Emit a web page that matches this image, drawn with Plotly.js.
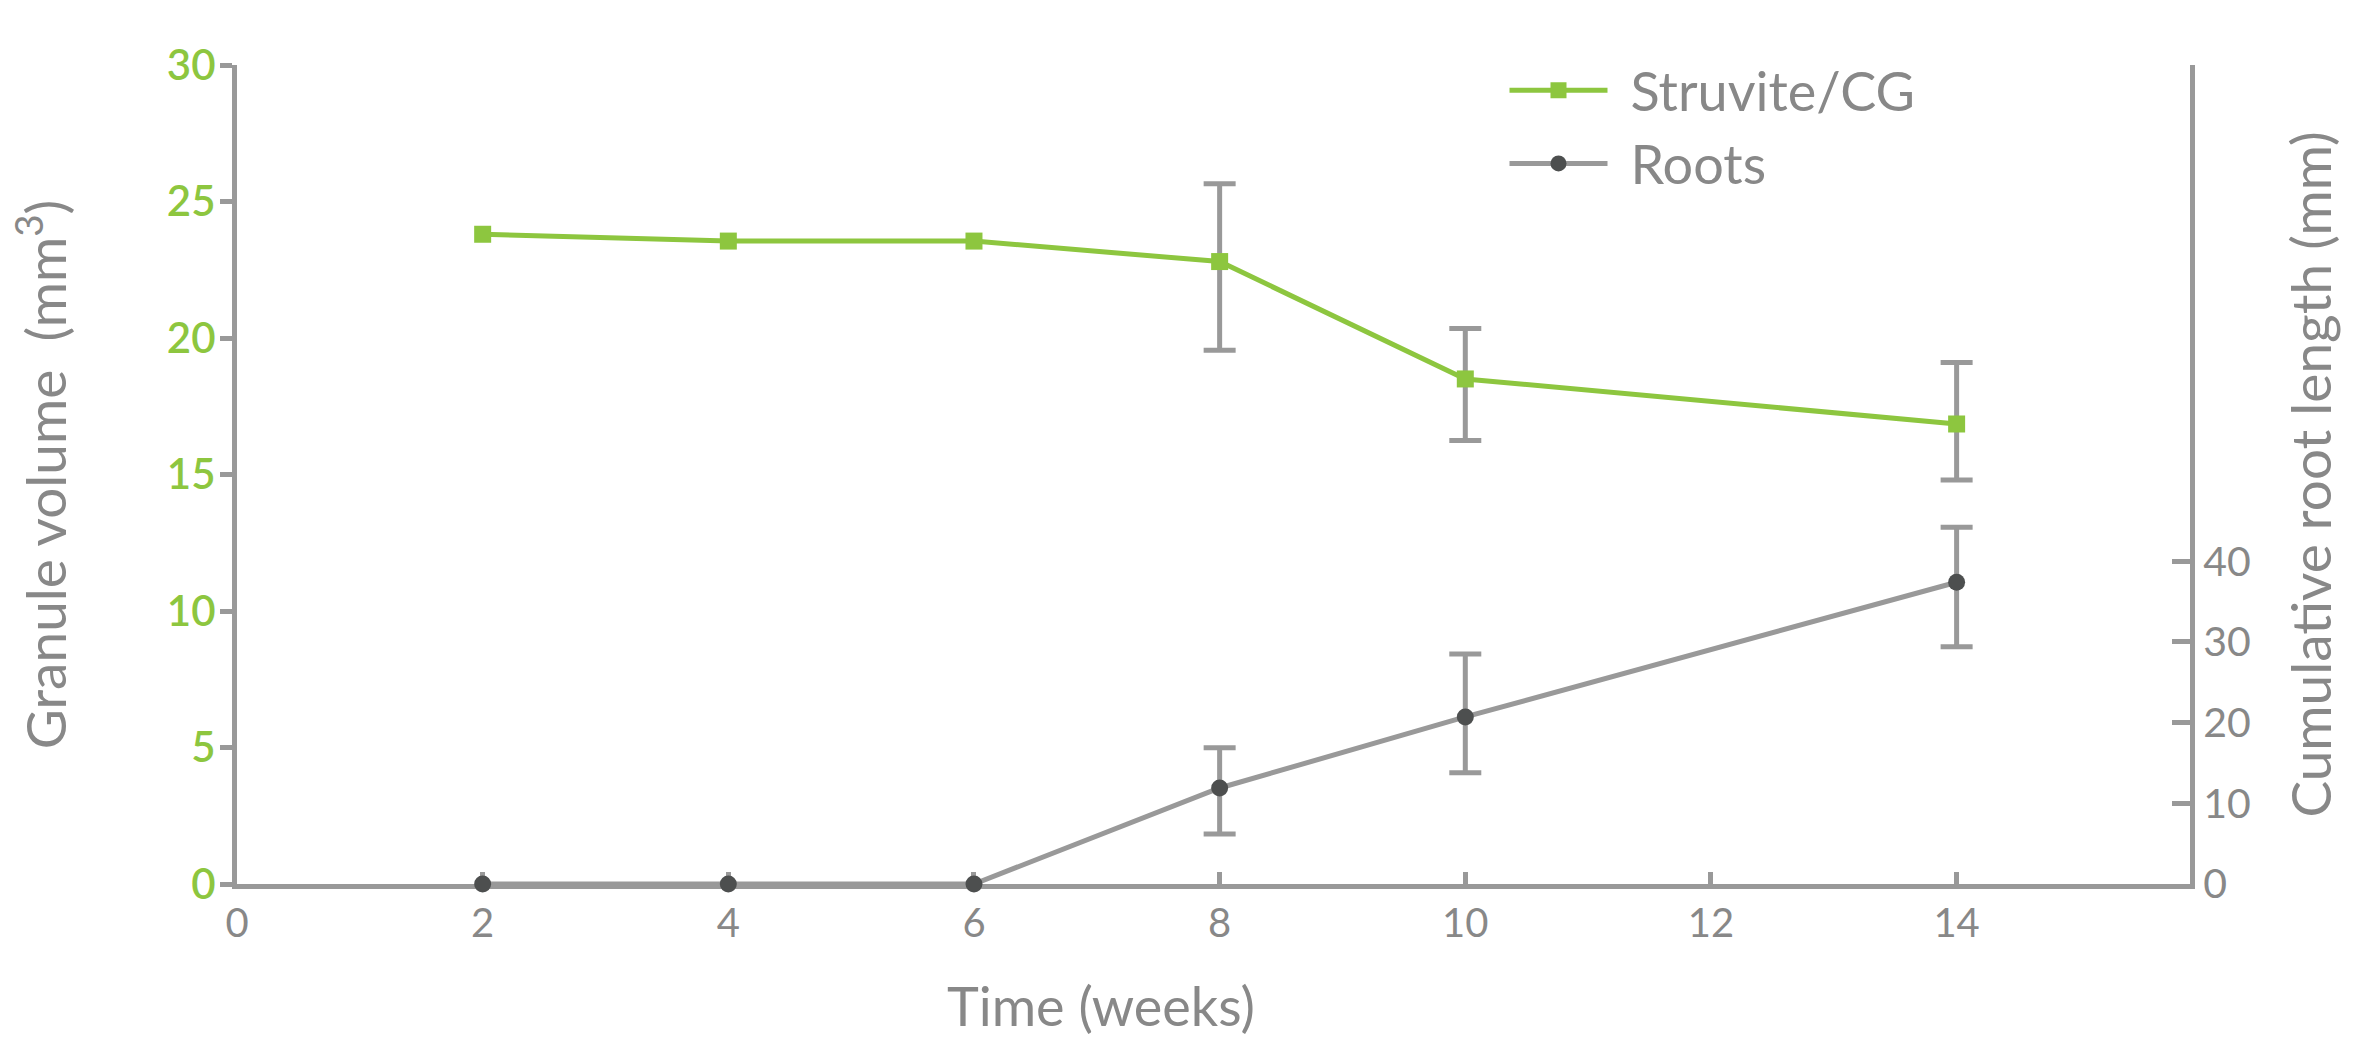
<!DOCTYPE html>
<html>
<head>
<meta charset="utf-8">
<script src="https://cdn.plot.ly/plotly-3.0.1.min.js"></script>
<style>html,body{margin:0;padding:0;background:#fff}#chart{width:2365px;height:1040px}</style>
</head>
<body>
<div id="chart"></div>
<script>
// ---- data (NaN = no error bar drawn) ----
const weeks = [2, 4, 6, 8, 10, 14];
const struvite = [23.8, 23.55, 23.55, 22.8, 18.5, 16.85];
const struviteErrPlus = [NaN, NaN, NaN, 2.85, 1.85, 2.25];
const struviteErrMinus = [NaN, NaN, NaN, 3.25, 2.25, 2.05];
const roots = [0, 0, 0, 11.9, 20.7, 37.4];
const rootsErrPlus = [NaN, NaN, NaN, 5.0, 7.8, 6.8];
const rootsErrMinus = [NaN, NaN, NaN, 5.7, 6.9, 8.0];
const xTicks = [0, 2, 4, 6, 8, 10, 12, 14];
const leftTicks = [0, 5, 10, 15, 20, 25, 30];
const rightTicks = [0, 10, 20, 30, 40];

const GREEN = '#8dc63f';
const GRAY = '#999999';
const TEXT = '#888888';
const DARK = '#4d4f4f';
const FONT = 'Lato, "Open Sans", sans-serif';

const traces = [
  {
    x: weeks, y: struvite, name: '\u2004Struvite/CG', type: 'scatter', mode: 'lines+markers',
    yaxis: 'y', cliponaxis: false,
    line: {color: GREEN, width: 5},
    marker: {symbol: 'square', size: 17, color: GREEN},
    error_y: {type: 'data', symmetric: false, array: struviteErrPlus, arrayminus: struviteErrMinus,
              color: GRAY, thickness: 5, width: 16}
  },
  {
    x: weeks, y: roots, name: '\u2004Roots', type: 'scatter', mode: 'lines+markers',
    yaxis: 'y2', cliponaxis: false,
    line: {color: GRAY, width: 5},
    marker: {symbol: 'circle', size: 17, color: DARK},
    error_y: {type: 'data', symmetric: false, array: rootsErrPlus, arrayminus: rootsErrMinus,
              color: GRAY, thickness: 5, width: 16}
  }
];

const layout = {
  width: 2365, height: 1040,
  margin: {l: 237, r: 175, t: 65, b: 156},
  paper_bgcolor: '#ffffff', plot_bgcolor: '#ffffff',
  font: {family: FONT, color: TEXT, size: 40},
  showlegend: true,
  legend: {
    x: 0.649, y: 1.02, xanchor: 'left', yanchor: 'top',
    font: {family: FONT, size: 54, color: TEXT},
    bgcolor: 'rgba(0,0,0,0)', itemwidth: 98, tracegroupgap: 0
  },
  xaxis: {
    range: [0, 15.9], tickvals: xTicks, ticktext: xTicks.map(String),
    ticks: 'inside', ticklen: 12, tickwidth: 5, tickcolor: GRAY,
    showline: true, linecolor: GRAY, linewidth: 5,
    showgrid: false, zeroline: false, layer: 'below traces',
    tickfont: {family: FONT, size: 40, color: TEXT}
  },
  yaxis: {
    range: [0, 30], tickvals: leftTicks, ticktext: leftTicks.map(String),
    ticks: 'outside', ticklen: 12, tickwidth: 5, tickcolor: GRAY,
    showline: true, linecolor: GRAY, linewidth: 5,
    showgrid: false, zeroline: false, layer: 'below traces',
    tickfont: {family: FONT, size: 42, color: GREEN, weight: 600},
    ticklabelstandoff: -4,
    title: {text: 'Granule volume&nbsp; (mm<sup>3</sup>)', font: {family: FONT, size: 55, color: TEXT}, standoff: 84}
  },
  yaxis3: {
    overlaying: 'y', side: 'left', range: [0, 30], tickvals: leftTicks,
    ticks: 'inside', ticklen: 48, tickwidth: 5, tickcolor: GRAY,
    showticklabels: false, showline: false, showgrid: false, zeroline: false
  },
  yaxis2: {
    overlaying: 'y', side: 'right', range: [0, 101.5],
    tickvals: rightTicks, ticktext: rightTicks.map(String),
    ticks: 'inside', ticklen: 18, tickwidth: 5, tickcolor: GRAY,
    showline: true, linecolor: GRAY, linewidth: 5,
    showgrid: false, zeroline: false, layer: 'below traces',
    tickfont: {family: FONT, size: 41, color: TEXT},
    title: {text: 'Cumulative root length (mm)', font: {family: FONT, size: 55, color: TEXT}, standoff: 44}
  },
  annotations: [{
    text: 'Time (weeks)', xref: 'paper', yref: 'paper',
    x: (1101 - 237) / 1953, y: (884 - 1006) / 819, xanchor: 'center', yanchor: 'middle',
    showarrow: false, font: {family: FONT, size: 54, color: TEXT}
  }]
};

Plotly.newPlot('chart', traces, layout, {displayModeBar: false, staticPlot: true});
</script>
</body>
</html>
